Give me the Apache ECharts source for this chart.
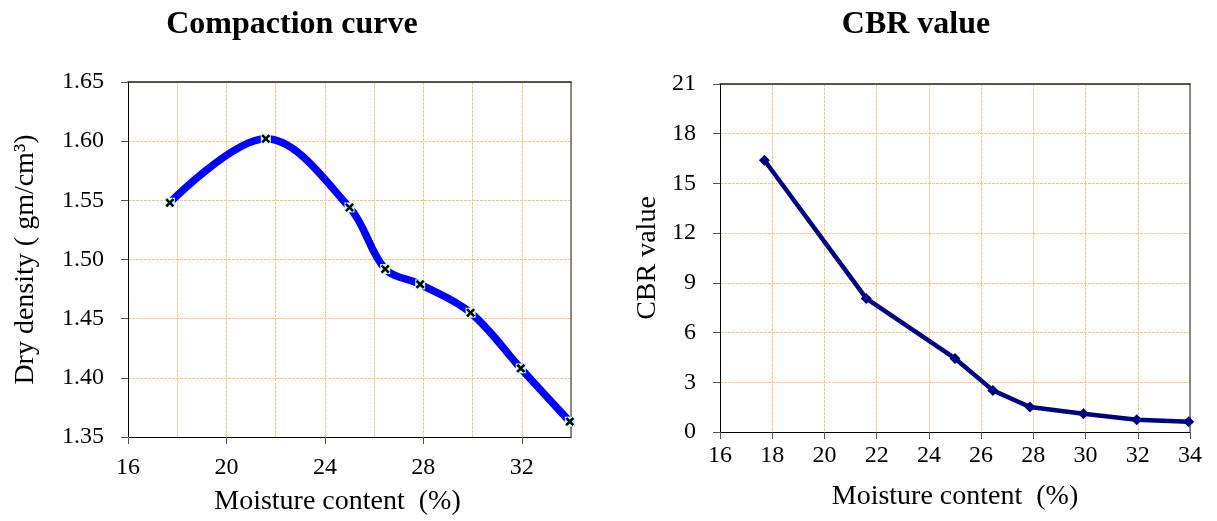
<!DOCTYPE html>
<html>
<head>
<meta charset="utf-8">
<script src="https://cdn.jsdelivr.net/npm/echarts@6/dist/echarts.min.js"></script>
<style>
  html, body { margin: 0; padding: 0; background: #fff; }
  #chart { width: 1217px; height: 521px; }
</style>
</head>
<body>
<div id="chart"></div>
<script>
// moisture content (%) of the samples, shared by both charts
var moisture = [17.7, 21.6, 25.0, 26.45, 27.87, 29.92, 31.96, 33.95];
var dryDensity = [1.548, 1.602, 1.544, 1.492, 1.479, 1.455, 1.408, 1.363];
var cbrValue = [16.4, 8.06, 4.44, 2.51, 1.51, 1.1, 0.74, 0.62];
var leftXTicks = [16, 20, 24, 28, 32];

var font = 'Liberation Serif';

function gridLine() {
    return { show: true, lineStyle: { color: '#ffc58a', type: [3, 1], width: 1 } };
}

// plain axis used only to draw the dark frame line on top / right
function frameAxis(gridIndex, position, min, max) {
    return {
        gridIndex: gridIndex, type: 'value', position: position, min: min, max: max,
        axisLine: { show: true, onZero: false, lineStyle: { color: position == 'top' ? '#222' : '#666', width: 1.5 } },
        axisTick: { show: false }, axisLabel: { show: false }, splitLine: { show: false }
    };
}

function pairs(xs, ys) {
    var out = [];
    for (var i = 0; i < xs.length; i++) {
        out.push([xs[i], ys[i]]);
    }
    return out;
}

var xMark = 'path://M0,2 L2,0 L5,3 L8,0 L10,2 L7,5 L10,8 L8,10 L5,7 L2,10 L0,8 L3,5 Z';

var chart = echarts.init(document.getElementById('chart'), null, { renderer: 'canvas' });

chart.setOption({
    animation: false,
    title: [{
        text: 'Compaction curve',
        left: 287, top: 4, textAlign: 'center',
        textStyle: { fontFamily: font, fontSize: 32, fontWeight: 'bold', color: '#000' }
    }, {
        text: 'CBR value',
        left: 911, top: 4, textAlign: 'center',
        textStyle: { fontFamily: font, fontSize: 32, fontWeight: 'bold', color: '#000' }
    }],
    grid: [
        { left: 128, right: 646, top: 82, bottom: 83 },
        { left: 720, right: 27, top: 84, bottom: 89 }
    ],
    xAxis: [{
        gridIndex: 0, type: 'value', min: 16, max: 34, interval: 4,
        name: 'Moisture content  (%)', nameLocation: 'middle', nameGap: 51,
        nameTextStyle: { fontFamily: font, fontSize: 28, color: '#000', padding: [0, 24, 0, 0] },
        axisLine: { onZero: false, lineStyle: { color: '#000', width: 1 } },
        axisTick: { show: true, length: 7, customValues: leftXTicks, lineStyle: { color: '#555' } },
        axisLabel: { customValues: leftXTicks, fontFamily: font, fontSize: 24, color: '#000', margin: 19 },
        splitLine: { show: false }
    }, {
        gridIndex: 0, type: 'value', min: 16, max: 34, interval: 2,
        axisLine: { show: false }, axisTick: { show: false }, axisLabel: { show: false },
        splitLine: gridLine()
    }, {
        gridIndex: 1, type: 'value', min: 16, max: 34, interval: 2,
        name: 'Moisture content  (%)', nameLocation: 'middle', nameGap: 51,
        nameTextStyle: { fontFamily: font, fontSize: 28, color: '#000' },
        axisLine: { onZero: false, lineStyle: { color: '#000', width: 1 } },
        axisTick: { show: true, length: 7, lineStyle: { color: '#555' } },
        axisLabel: { fontFamily: font, fontSize: 24, color: '#000', margin: 12 },
        splitLine: gridLine()
    },
        frameAxis(0, 'top', 16, 34),
        frameAxis(1, 'top', 16, 34)
    ],
    yAxis: [{
        gridIndex: 0, type: 'value', min: 1.35, max: 1.65, interval: 0.05,
        name: 'Dry density ( gm/cm³)', nameLocation: 'middle', nameGap: 88,
        nameTextStyle: { fontFamily: font, fontSize: 28, color: '#000' },
        axisLine: { show: true, onZero: false, lineStyle: { color: '#000', width: 1 } },
        axisTick: { show: true, length: 7, lineStyle: { color: '#555' } },
        axisLabel: {
            fontFamily: font, fontSize: 24, color: '#000', margin: 24,
            formatter: function (v) { return v.toFixed(2); }
        },
        splitLine: gridLine()
    }, {
        gridIndex: 1, type: 'value', min: 0, max: 21, interval: 3,
        name: 'CBR value', nameLocation: 'middle', nameGap: 58,
        nameTextStyle: { fontFamily: font, fontSize: 28, color: '#000' },
        axisLine: { show: true, onZero: false, lineStyle: { color: '#000', width: 1 } },
        axisTick: { show: true, length: 7, lineStyle: { color: '#555' } },
        axisLabel: { fontFamily: font, fontSize: 24, color: '#000', margin: 24 },
        splitLine: gridLine()
    },
        frameAxis(0, 'right', 1.35, 1.65),
        frameAxis(1, 'right', 0, 21)
    ],
    series: [{
        type: 'line', xAxisIndex: 0, yAxisIndex: 0,
        data: pairs(moisture, dryDensity),
        smooth: 0.35,
        showSymbol: false,
        lineStyle: { color: '#0000ff', width: 7.5 }
    }, {
        type: 'scatter', xAxisIndex: 0, yAxisIndex: 0, z: 4,
        data: pairs(moisture, dryDensity),
        symbol: 'rect', symbolSize: 10,
        itemStyle: { color: '#c8ffff', opacity: 1 }
    }, {
        type: 'scatter', xAxisIndex: 0, yAxisIndex: 0, z: 5,
        data: pairs(moisture, dryDensity),
        symbol: xMark, symbolSize: 9,
        itemStyle: { color: '#000', opacity: 1 }
    }, {
        type: 'line', xAxisIndex: 2, yAxisIndex: 1,
        data: pairs(moisture, cbrValue),
        symbol: 'diamond', symbolSize: 11,
        itemStyle: { color: '#000080' },
        lineStyle: { color: '#000080', width: 4.5 }
    }]
});
</script>
</body>
</html>
